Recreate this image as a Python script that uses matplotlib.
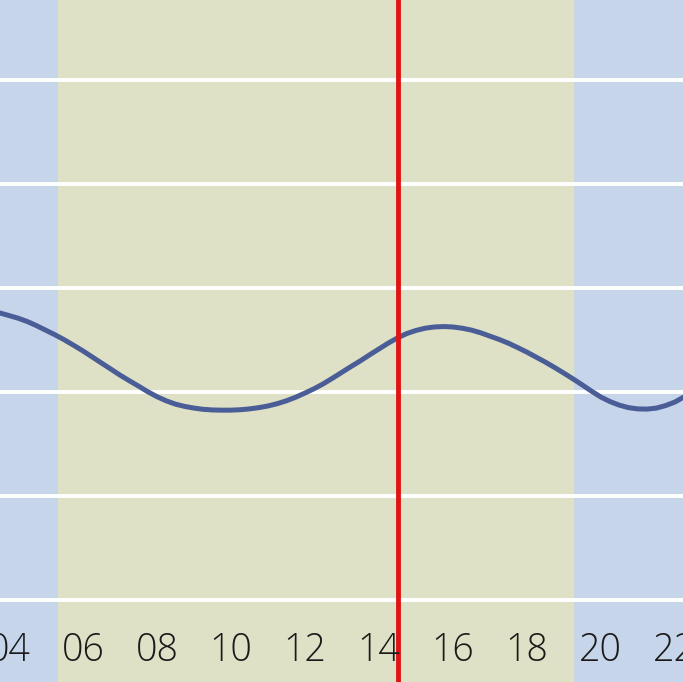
import numpy as np
import matplotlib.pyplot as plt

# marea (hora, nivel)
horas = [3.76, 4.0, 4.25, 4.5, 4.75, 5.0, 5.25, 5.5, 5.75, 6.0, 6.25, 6.5, 6.75,
         7.0, 7.25, 7.5, 7.75, 8.0, 8.25, 8.5, 8.75, 9.0, 9.25, 9.5, 9.75, 10.0,
         10.25, 10.5, 10.75, 11.0, 11.25, 11.5, 11.75, 12.0, 12.25, 12.5, 12.75,
         13.0, 13.25, 13.5, 13.75, 14.0, 14.25, 14.5, 14.75, 15.0, 15.25, 15.5,
         15.75, 16.0, 16.25, 16.5, 16.75, 17.0, 17.25, 17.5, 17.75, 18.0, 18.25,
         18.5, 18.75, 19.0, 19.25, 19.5, 19.75, 20.0, 20.25, 20.5, 20.75, 21.0,
         21.25, 21.5, 21.75, 22.0, 22.22]
nivel = [138.0, 136.8, 135.5, 133.9, 131.9, 129.7, 127.5, 125.1, 122.5, 119.8,
         116.9, 114.0, 111.1, 108.2, 105.5, 102.9, 100.2, 97.8, 95.8, 94.2, 93.1,
         92.3, 91.7, 91.4, 91.3, 91.3, 91.5, 91.9, 92.5, 93.3, 94.4, 95.8, 97.5,
         99.5, 101.6, 104.0, 106.7, 109.5, 112.3, 115.0, 117.9, 120.7, 123.5, 126.0,
         128.1, 129.6, 130.7, 131.3, 131.5, 131.3, 130.7, 129.8, 128.5, 126.9, 125.3,
         123.5, 121.4, 119.2, 116.8, 114.4, 111.8, 109.1, 106.3, 103.4, 100.4, 97.6,
         95.4, 93.7, 92.5, 91.9, 91.8, 92.3, 93.5, 95.2, 97.4]

etiquetas_x = ["04", "06", "08", "10", "12", "14", "16", "18", "20", "22"]
pos_x = [4, 6, 8, 10, 12, 14, 16, 18, 20, 22]
lineas_y = [0, 50, 100, 150, 200, 250]

amanecer = 5.33
atardecer = 19.25
hora_actual = 14.52

fig = plt.figure(figsize=(6.83, 6.82), dpi=100)
ax = fig.add_axes([0, 0, 1, 1])
ax.set_facecolor("#c6d5ea")

ax.axvspan(amanecer, atardecer, color="#dee1c6", zorder=0)

for y in lineas_y:
    ax.axhline(y, color="white", linewidth=2.8, zorder=1)

ax.plot(horas, nivel, color="#4a5d96", linewidth=3.6, zorder=2,
        solid_capstyle="round", solid_joinstyle="round")

ax.axvline(hora_actual, color="#e01414", linewidth=3.5, zorder=3)

for p, t in zip(pos_x, etiquetas_x):
    ax.text(p, 0.0455, t, transform=ax.get_xaxis_transform(), ha="center",
            va="center", fontsize=27, color="#1a1a1a", family="Open Sans",
            fontweight=300, zorder=4)

ax.set_xlim(3.76, 22.22)
ax.set_ylim(-39.4, 288.5)
ax.set_xticks([])
ax.set_yticks([])
for s in ax.spines.values():
    s.set_visible(False)

plt.savefig("out.png", dpi=100)
plt.close()
